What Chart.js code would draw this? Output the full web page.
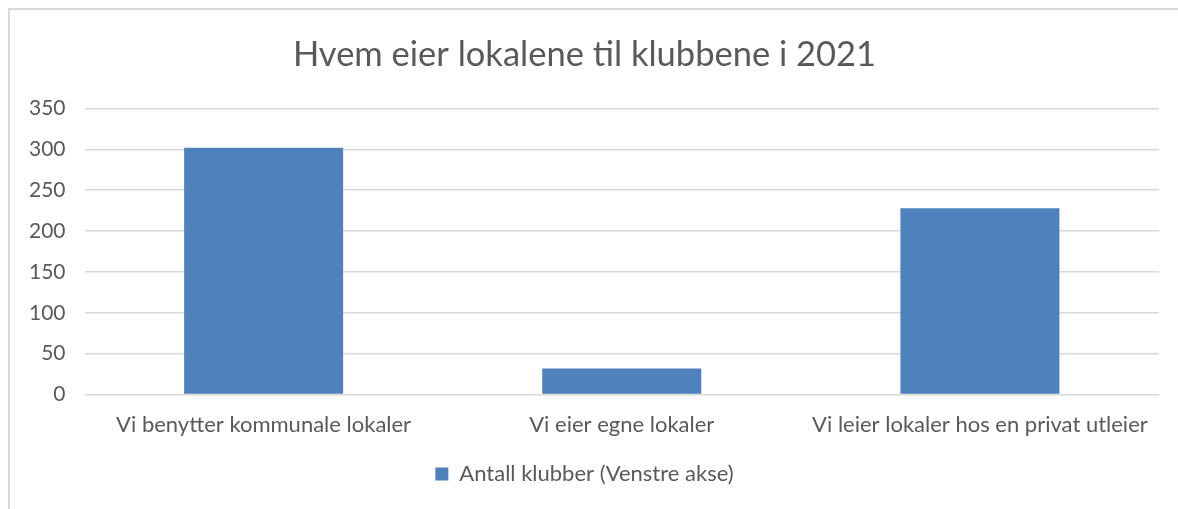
<!DOCTYPE html>
<html lang="no">
  <head>
    <meta charset="UTF-8">
    <title>Hvem eier lokalene</title>
    <script src="https://cdn.jsdelivr.net/npm/chart.js"></script>
    <style>
      body { margin: 0; background: #fff; }
      #ramme { position: absolute; left: 8px; top: 8px; width: 1170px; height: 501px;
               border-left: 2px solid #d9d9d9; border-top: 2px solid #d9d9d9; }
    </style>
  </head>
  <body>
    <div id="ramme">
      <canvas id="grafico1" width="1168" height="499" style="width:1168px;height:499px"></canvas>
    </div>

    <script>
      const kategorier = ['Vi benytter kommunale lokaler', 'Vi eier egne lokaler', 'Vi leier lokaler hos en privat utleier']
      const antallKlubber = [302, 32, 228]
      const seriensNavn = 'Antall klubber (Venstre akse)'
      const tittel = 'Hvem eier lokalene til klubbene i 2021'

      const tekstFarge = '#595959'
      const fonte = 'Lato'

      const ctx = document.getElementById('grafico1')
      new Chart(ctx, {
        type: 'bar',
        data: {
          labels: kategorier,
          datasets: [{
            label: seriensNavn,
            data: antallKlubber,
            backgroundColor: '#4f81bd',
            categoryPercentage: 1,
            barPercentage: 0.444
          }]
        },
        options: {
          responsive: false,
          animation: false,
          layout: { padding: { left: 0, right: 19, top: 0, bottom: 14 } },
          plugins: {
            title: {
              display: true,
              text: tittel,
              color: tekstFarge,
              font: { family: fonte, size: 34.5, weight: 'normal' },
              padding: { top: 24, bottom: 33 }
            },
            legend: {
              position: 'bottom',
              labels: {
                color: tekstFarge,
                font: { family: fonte, size: 22 },
                boxWidth: 13,
                boxHeight: 13,
                padding: 16
              }
            },
            tooltip: { enabled: false }
          },
          scales: {
            x: {
              grid: { display: false },
              border: { display: false },
              ticks: { color: tekstFarge, font: { family: fonte, size: 22 }, padding: 9, maxRotation: 0 }
            },
            y: {
              min: 0,
              max: 350,
              grid: { color: '#d9d9d9', lineWidth: 1.5, drawTicks: false },
              border: { display: false },
              ticks: { stepSize: 50, color: tekstFarge, font: { family: fonte, size: 21 }, padding: 19 }
            }
          }
        }
      })
    </script>
  </body>
</html>
